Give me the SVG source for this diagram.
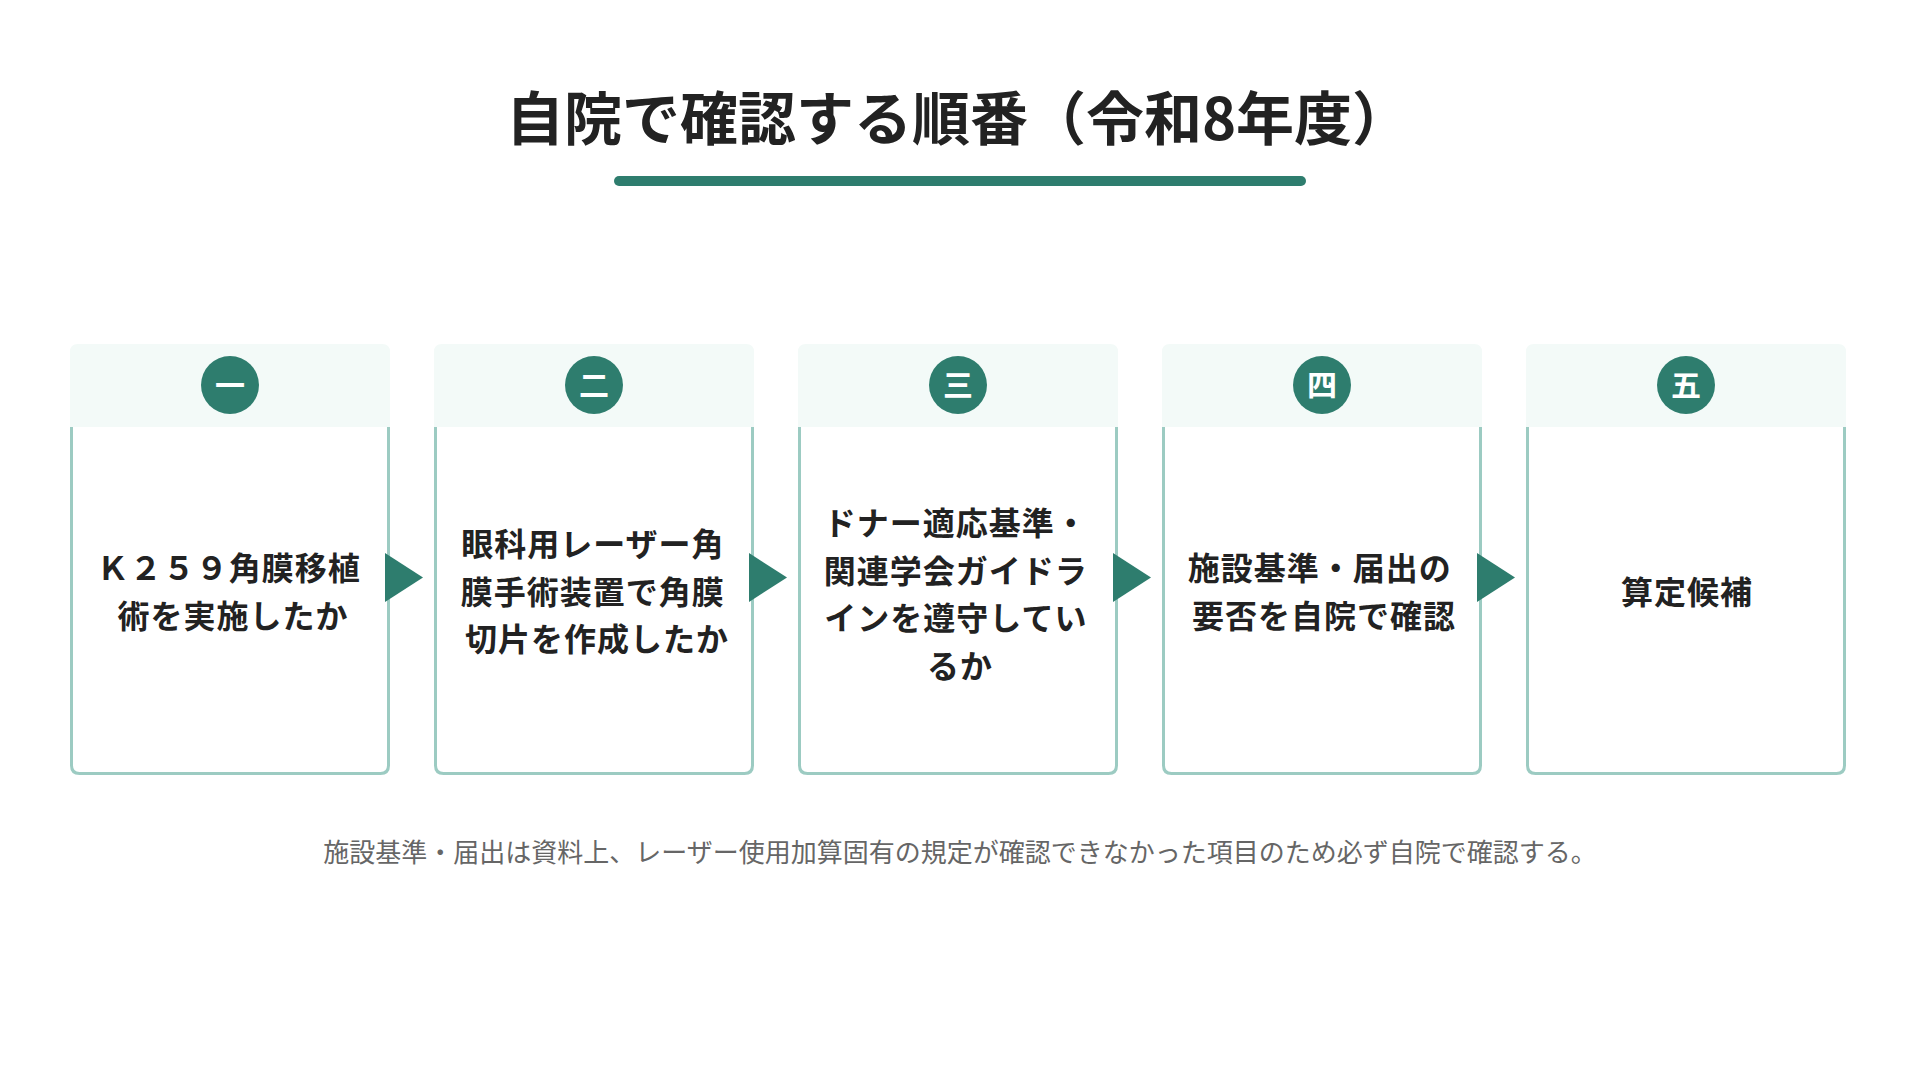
<svg xmlns="http://www.w3.org/2000/svg" width="1920" height="1080" viewBox="0 0 1920 1080">
  <style>
    .title { font-family: "Noto Sans CJK JP", "Noto Sans", sans-serif; font-size: 58px; font-weight: 700; fill: #222222; }
    .body { font-family: "Noto Sans CJK JP", "Noto Sans", sans-serif; font-size: 32px; font-weight: 700; fill: #222222; letter-spacing: 1px; }
    .num { font-family: "Noto Sans CJK JP", "Noto Sans", sans-serif; font-size: 30px; font-weight: 700; fill: #ffffff; }
    .note { font-family: "Noto Sans CJK JP", "Noto Sans", sans-serif; font-size: 26px; font-weight: 400; fill: #666666; }
    .frame { fill: #ffffff; stroke: #9ccbc2; stroke-width: 3; }
    .head { fill: #f3faf8; }
    .badge { fill: #2e7d6e; }
    .arrow { fill: #2e7d6e; }
  </style>
  <defs>
    <g id="card">
      <path class="frame" d="M1.5,83 V421.5 Q1.5,429.5 9.5,429.5 H310.5 Q318.5,429.5 318.5,421.5 V83"/>
      <path class="head" d="M0,83 V8 Q0,0 8,0 H312 Q320,0 320,8 V83 Z"/>
      <circle class="badge" cx="160" cy="41" r="29"/>
    </g>
  </defs>
  <rect width="1920" height="1080" fill="#ffffff"/>

  <g id="title">
    <text class="title" x="958" y="140" text-anchor="middle">自院で確認する順番（令和8年度）</text>
    <rect x="614" y="176" width="692" height="10" rx="5" fill="#2e7d6e"/>
  </g>

  <g id="step1">
    <use href="#card" x="70" y="344"/>
    <text class="num" x="230" y="396" text-anchor="middle">一</text>
    <text class="body" text-anchor="middle">
      <tspan x="233" y="580">Ｋ２５９角膜移植</tspan>
      <tspan x="233" y="628">術を実施したか</tspan>
    </text>
  </g>

  <g id="step2">
    <use href="#card" x="434" y="344"/>
    <text class="num" x="594" y="396" text-anchor="middle">二</text>
    <text class="body" text-anchor="middle">
      <tspan x="597" y="556">眼科用レーザー角</tspan>
      <tspan x="597" y="603.5">膜手術装置で角膜</tspan>
      <tspan x="597" y="651">切片を作成したか</tspan>
    </text>
  </g>

  <g id="step3">
    <use href="#card" x="798" y="344"/>
    <text class="num" x="958" y="396" text-anchor="middle">三</text>
    <text class="body" text-anchor="middle">
      <tspan x="960" y="535">ドナー適応基準・</tspan>
      <tspan x="960" y="582.5">関連学会ガイドラ</tspan>
      <tspan x="960" y="630">インを遵守してい</tspan>
      <tspan x="960" y="677.5">るか</tspan>
    </text>
  </g>

  <g id="step4">
    <use href="#card" x="1162" y="344"/>
    <text class="num" x="1322" y="396" text-anchor="middle">四</text>
    <text class="body" text-anchor="middle">
      <tspan x="1324" y="580">施設基準・届出の</tspan>
      <tspan x="1324" y="628">要否を自院で確認</tspan>
    </text>
  </g>

  <g id="step5">
    <use href="#card" x="1526" y="344"/>
    <text class="num" x="1686" y="396" text-anchor="middle">五</text>
    <text class="body" x="1687" y="604" text-anchor="middle">算定候補</text>
  </g>

  <g id="connectors">
    <polygon class="arrow" points="385,553 423,577.5 385,602"/>
    <polygon class="arrow" points="749,553 787,577.5 749,602"/>
    <polygon class="arrow" points="1113,553 1151,577.5 1113,602"/>
    <polygon class="arrow" points="1477,553 1515,577.5 1477,602"/>
  </g>

  <g id="note">
    <text class="note" x="960" y="862" text-anchor="middle">施設基準・届出は資料上、レーザー使用加算固有の規定が確認できなかった項目のため必ず自院で確認する。</text>
  </g>
</svg>
